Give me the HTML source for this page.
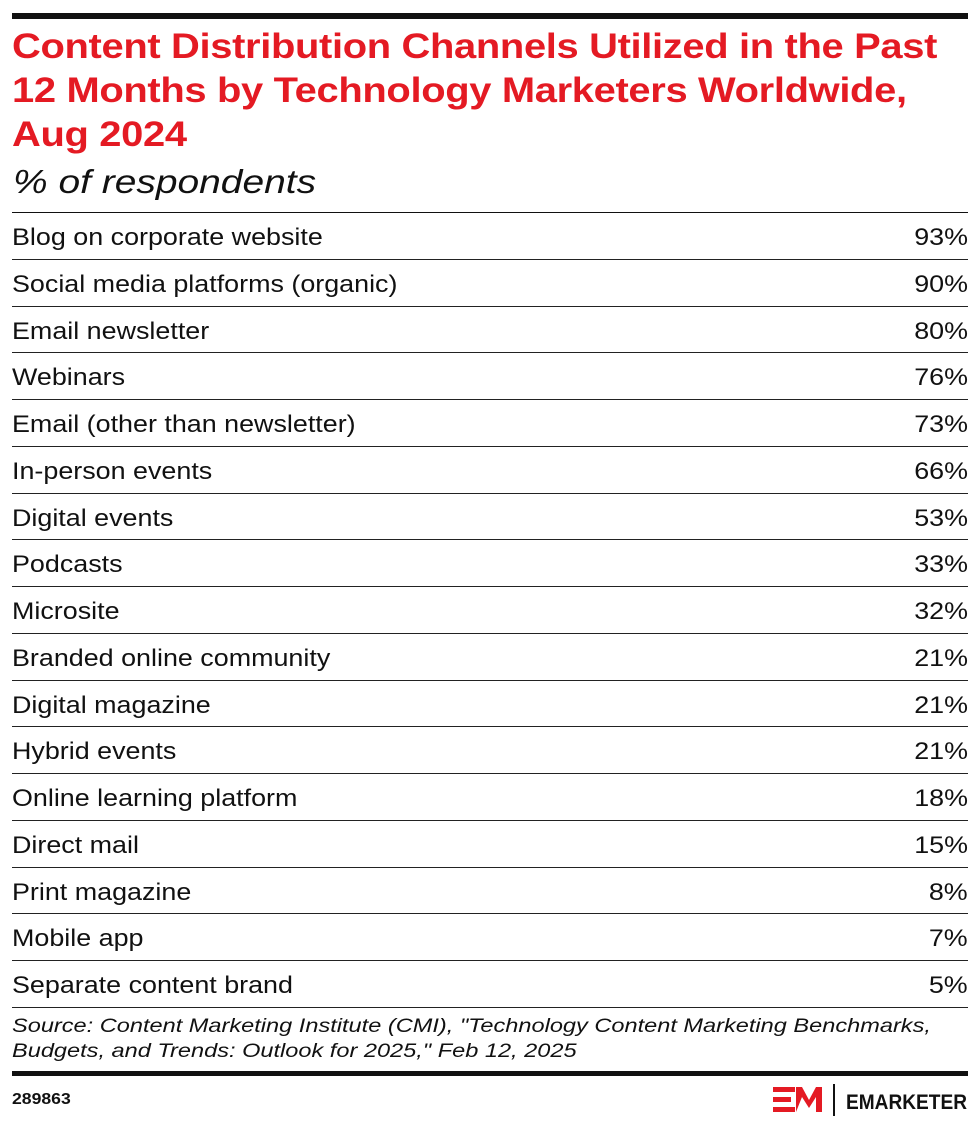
<!DOCTYPE html>
<html><head><meta charset="utf-8"><style>
body{margin:0;background:#fff;width:980px;height:1127px;position:relative;font-family:"Liberation Sans",sans-serif;color:#111;overflow:hidden}
.bar{position:absolute;left:12px;width:956px;background:#111}
.t{position:absolute;left:12px;color:#e41a23;font-weight:bold;font-size:35px;line-height:44px;top:25px;letter-spacing:-0.3px;transform:scaleX(1.14);transform-origin:0 0;white-space:nowrap}
.sub{position:absolute;left:13px;top:163px;font-style:italic;font-size:33px;transform:scaleX(1.18);transform-origin:0 0;white-space:nowrap}
.row{position:absolute;left:12px;width:956px;height:46.8px;border-bottom:1px solid #222;font-size:24px;box-sizing:border-box}
.row span{position:absolute;top:11px;white-space:nowrap;transform:scaleX(1.12)}
.row .l{transform-origin:0 0;left:0}
.row .v{right:0;transform-origin:100% 0}
.src{position:absolute;left:12px;top:1014px;font-style:italic;font-size:19px;line-height:25px;transform:scaleX(1.24);transform-origin:0 0;white-space:nowrap}
</style></head><body>
<div class="bar" style="top:13px;height:6px"></div>
<div class="t">Content Distribution Channels Utilized in the Past<br>12 Months by Technology Marketers Worldwide,<br>Aug 2024</div>
<div class="sub">% of respondents</div>
<div class="bar" style="top:212px;height:1px"></div>
<div id="rows"></div>
<div class="src">Source: Content Marketing Institute (CMI), "Technology Content Marketing Benchmarks,<br>Budgets, and Trends: Outlook for 2025," Feb 12, 2025</div>
<div class="bar" style="top:1071px;height:5px"></div>
<div style="position:absolute;left:12px;top:1091px;font-weight:bold;font-size:16px;transform:scaleX(1.1);transform-origin:0 0">289863</div>
<svg style="position:absolute;left:770px;top:1082px" width="200" height="34">
<path d="M3 5h22v5h-22zM3 15h18v5h-18zM3 25h22v5h-22z" fill="#e41a23"/>
<path d="M26 30V5h6l7 13 7-13h6v25h-6V15l-7 11-7-11z" fill="#e41a23"/>
<rect x="63" y="2" width="2" height="32" fill="#111"/>
<text x="76" y="27" font-family="Liberation Sans" font-weight="bold" font-size="21" textLength="121" lengthAdjust="spacingAndGlyphs" fill="#111">EMARKETER</text>
</svg>
<script>
var d=[["Blog on corporate website","93%"],["Social media platforms (organic)","90%"],["Email newsletter","80%"],["Webinars","76%"],["Email (other than newsletter)","73%"],["In-person events","66%"],["Digital events","53%"],["Podcasts","33%"],["Microsite","32%"],["Branded online community","21%"],["Digital magazine","21%"],["Hybrid events","21%"],["Online learning platform","18%"],["Direct mail","15%"],["Print magazine","8%"],["Mobile app","7%"],["Separate content brand","5%"]];
var h="";d.forEach(function(r,i){h+='<div class="row" style="top:'+(213+i*46.75)+'px"><span class="l">'+r[0]+'</span><span class="v">'+r[1]+'</span></div>'});
document.getElementById("rows").innerHTML=h;
</script>
</body></html>
